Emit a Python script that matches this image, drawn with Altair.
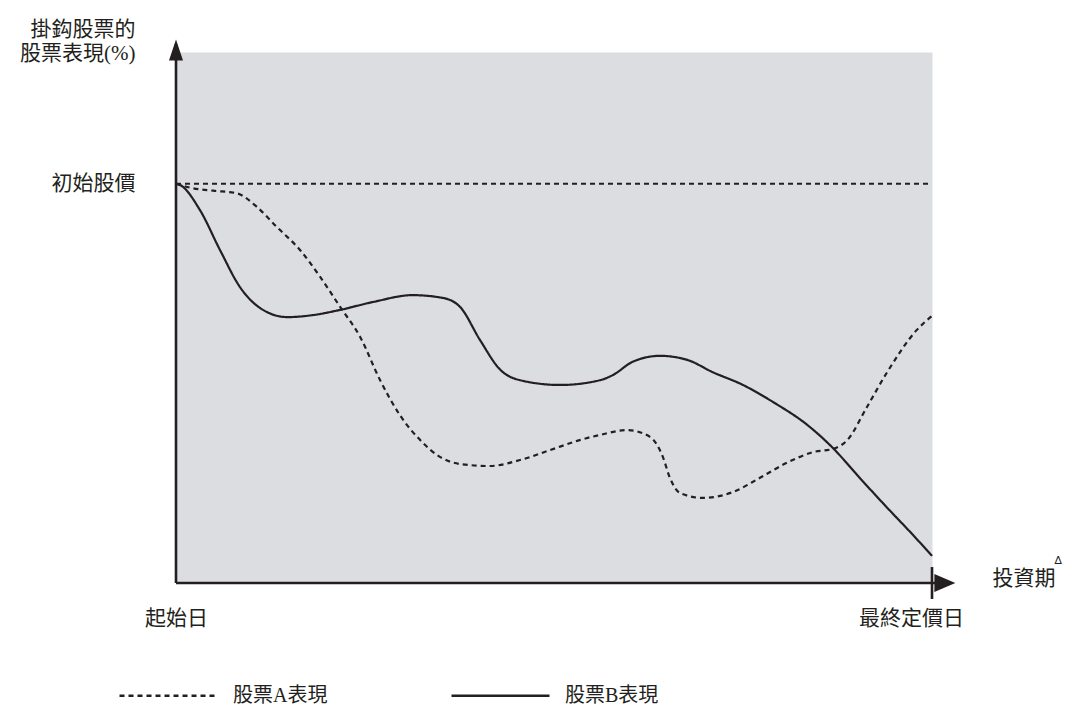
import altair as alt
import pandas as pd

# ---- data (x: 0 = 起始日, 100 = 最終定價日; y: 100 = 初始股價) ----
series_names = ["股票A表現", "股票B表現"]

t_A = [0, 2.29, 4.93, 8.03, 10.67, 13.3, 16.4, 19.05, 21.69, 24.34, 27.0, 29.6, 32.3, 34.9,
       37.6, 41.5, 45.5, 49.5, 53.4, 56.1, 59.7, 62.7, 64.4, 65.3, 66.7, 69.7, 73.7, 77.2,
       80.8, 84.3, 86.9, 88.8, 91.4, 94.0, 98.0, 100]
v_A = [100, 98.86, 98.26, 97.61, 94.25, 89.24, 83.41, 76.72, 69.21, 61.69, 50.8, 42.1, 35.8,
       31.6, 29.8, 29.3, 30.8, 33.3, 35.8, 37.1, 38.3, 36.6, 31.6, 26.5, 22.5, 21.3, 22.8,
       26.3, 30.1, 32.8, 33.6, 35.8, 44.1, 52.6, 63.4, 66.9]

t_B = [0, 0.53, 3.17, 5.82, 8.47, 11.1, 14.7, 18.1, 21.7, 26.1, 31.3, 35.3, 37.6, 40.2,
       42.9, 45.5, 50.8, 56.1, 57.8, 60.4, 64.0, 67.6, 71.0, 75.0, 79.0, 83.5, 86.9, 90.5,
       94.0, 97.5, 100]
v_B = [100, 99.7, 93.4, 83.4, 74.1, 68.9, 66.6, 67.1, 68.4, 70.4, 72.1, 71.4, 69.1, 60.9,
       53.4, 50.8, 49.6, 50.8, 52.1, 55.4, 56.9, 55.9, 52.8, 49.6, 45.3, 39.6, 33.8, 26.2,
       19.0, 12.0, 6.8]

initial_level = 100
x_tick_values = [0, 100]
x_tick_labels = ["起始日", "最終定價日"]
y_tick_label = "初始股價"
y_title = ["掛鈎股票的", "股票表現(%)"]
x_title = "投資期"
x_note = "∆"

INK = "#231f20"
FONT = "Liberation Serif, Noto Sans CJK TC"

df = pd.concat([
    pd.DataFrame({"t": t_A, "v": v_A, "series": series_names[0]}),
    pd.DataFrame({"t": t_B, "v": v_B, "series": series_names[1]}),
])

xs = alt.Scale(domain=[0, 100], nice=False, zero=False)
ys = alt.Scale(domain=[0, 133], nice=False, zero=False)

x_axis = alt.Axis(
    values=x_tick_values,
    labelExpr="datum.value == 0 ? '%s' : '%s'" % tuple(x_tick_labels),
    labelFlush=False, labelOverlap=False, ticks=False, domain=False, grid=False,
    labelFontSize=21, labelFont=FONT, labelColor=INK, labelPadding=24,
    labelOffset={"condition": {"test": "datum.value == 100", "value": -21}, "value": 0},
    title=x_title, titleFontSize=21, titleFont=FONT, titleColor=INK, titleFontWeight="normal",
    titleX=816, titleY=-5, titleAlign="left", titleBaseline="middle", titleAngle=0,
)
y_axis = alt.Axis(
    values=[initial_level],
    labelExpr="'%s'" % y_tick_label,
    ticks=False, domain=False, grid=False,
    labelFontSize=21, labelFont=FONT, labelColor=INK, labelPadding=41,
    labelBaseline="middle",
    title=y_title, titleFontSize=21, titleFont=FONT, titleColor=INK, titleFontWeight="normal",
    titleX=-41, titleY=-34, titleAlign="right", titleBaseline="top", titleAngle=0,
    titleLineHeight=24,
)

lines = alt.Chart(df).mark_line(
    color=INK, strokeWidth=2.2, interpolate="monotone"
).encode(
    x=alt.X("t:Q", scale=xs, axis=x_axis),
    y=alt.Y("v:Q", scale=ys, axis=y_axis),
    strokeDash=alt.StrokeDash(
        "series:N",
        scale=alt.Scale(domain=series_names, range=[[5, 4], [1, 0]]),
        legend=alt.Legend(
            orient="none", legendX=-58, legendY=593, direction="horizontal",
            title=None, symbolType="stroke", symbolSize=9600, symbolStrokeWidth=2.5,
            symbolStrokeColor=INK, labelFontSize=20, labelFont=FONT, labelColor=INK,
            labelOffset=14, columnPadding=118, padding=0, labelLimit=300,
        ),
    ),
)

ref = alt.Chart(pd.DataFrame({"t0": [0], "t1": [100], "v": [initial_level]})).mark_rule(
    color=INK, strokeWidth=2, strokeDash=[5, 4]
).encode(x=alt.X("t0:Q", scale=xs), x2="t1:Q", y=alt.Y("v:Q", scale=ys))

axis_lines = pd.DataFrame({
    "x0": [0, 0, 100], "x1": [0, 100.6, 100],
    "y0": [0, 0, -4], "y1": [135, 0, 4],
})
axes_rules = alt.Chart(axis_lines).mark_rule(color=INK, strokeWidth=2.6).encode(
    x=alt.X("x0:Q", scale=xs), x2="x1:Q",
    y=alt.Y("y0:Q", scale=ys), y2="y1:Q",
)

arrows = pd.DataFrame({
    "t": [0, 101.7], "v": [133.5, 0],
    "shape": ["M-0.67,1L0,-1L0.67,1Z", "M-1,-0.85L1,0L-1,0.85Z"],
})
arrow_marks = alt.Chart(arrows).mark_point(
    filled=True, color=INK, opacity=1, size=440
).encode(
    x=alt.X("t:Q", scale=xs), y=alt.Y("v:Q", scale=ys),
    shape=alt.Shape("shape:N", scale=None),
)

note = alt.Chart(pd.DataFrame({"t": [116.7], "v": [5.5], "s": [x_note]})).mark_text(
    fontSize=11, font="DejaVu Sans", color=INK, align="center", baseline="middle"
).encode(x=alt.X("t:Q", scale=xs), y=alt.Y("v:Q", scale=ys), text="s:N")

chart = alt.layer(ref, lines, axes_rules, arrow_marks, note).properties(
    width=756, height=531, autosize="none",
    padding={"left": 168, "top": 44, "right": 132, "bottom": 125},
    background="white",
).configure_view(fill="#dcdde0", strokeOpacity=0)

chart.save("out.html", embed_options={"renderer": "svg", "actions": False})
